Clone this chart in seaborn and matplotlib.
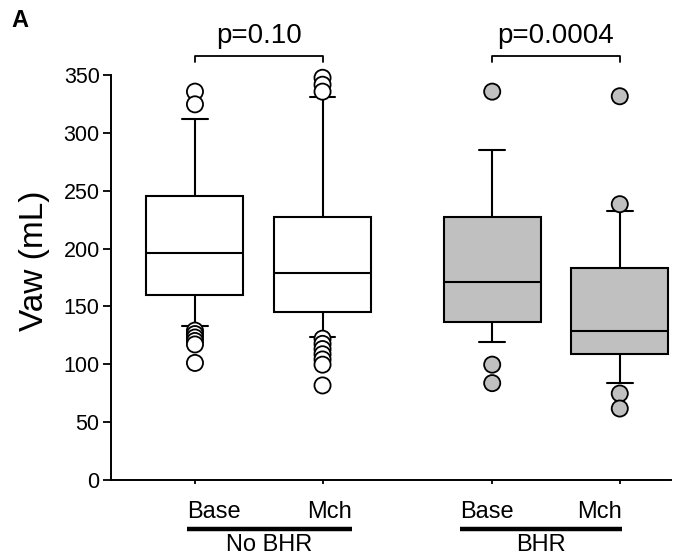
import pandas as pd
import matplotlib.pyplot as plt
import matplotlib.transforms as mtransforms
import seaborn as sns

# Box summaries (whisker ends, quartiles, median)
groups = ["No BHR", "No BHR", "BHR", "BHR"]
conditions = ["Base", "Mch", "Base", "Mch"]
positions = [0, 1, 2.33, 3.33]
whisker_low = [133, 123.5, 119, 83.5]
q1 = [160, 145, 136.5, 109]
median = [196.5, 178.5, 171, 128.5]
q3 = [246, 227.5, 227, 183.5]
whisker_high = [312, 331.5, 285.5, 233]

# points beyond the whiskers
outliers = [
    [336, 325, 129, 126, 123, 120, 117, 101],
    [348, 342, 336, 122, 117.5, 113, 108.5, 104, 99.5, 81.5],
    [336, 99.5, 83.5],
    [332, 238.5, 74.5, 61.5],
]

group_names = ["No BHR", "BHR"]
p_values = ["p=0.10", "p=0.0004"]
fills = {"No BHR": "white", "BHR": "#c0c0c0"}

# five numbers per box -> seaborn gets exactly these quartiles with whis=(0, 100)
box_rows = []
for g, c, x, lo, a, m, b, hi in zip(groups, conditions, positions,
                                    whisker_low, q1, median, q3, whisker_high):
    for v in (lo, a, m, b, hi):
        box_rows.append({"group": g, "cond": c, "x": x, "vaw": v})
box_df = pd.DataFrame(box_rows)

flier_rows = []
for g, x, pts in zip(groups, positions, outliers):
    for v in pts:
        flier_rows.append({"group": g, "x": x, "vaw": v})
flier_df = pd.DataFrame(flier_rows)

sns.set_theme(style="ticks", rc={"text.color": "black", "axes.labelcolor": "black",
                                 "xtick.color": "black", "ytick.color": "black",
                                 "axes.edgecolor": "black"})
plt.rcParams['font.family'] = ['Liberation Sans', 'DejaVu Sans']

fig = plt.figure(figsize=(6.88, 5.55), dpi=100)
ax = fig.add_axes([0.161, 0.136, 0.814, 0.728])

sns.boxplot(data=box_df, x="x", y="vaw", hue="group", palette=fills,
            native_scale=True, dodge=False, width=0.76, whis=(0, 100),
            showfliers=False, linecolor="black", linewidth=1.5,
            saturation=1, capwidths=0.2, legend=False, ax=ax)

sns.scatterplot(data=flier_df, x="x", y="vaw", hue="group", palette=fills,
                s=135, edgecolor="black", linewidth=1.3, legend=False,
                clip_on=False, zorder=4, ax=ax)

ax.set_xlim(-0.66, 3.73)
ax.set_ylim(0, 350)
ax.set_yticks(range(0, 351, 50))
ax.set_xticks(positions)
ax.set_xticklabels([])
ax.set_xlabel("")
ax.tick_params(axis="y", labelsize=15.5, length=6, width=1.3, pad=2)
ax.tick_params(axis="x", length=3, width=1.3)
for side in ["top", "right"]:
    ax.spines[side].set_visible(False)
for side in ["left", "bottom"]:
    ax.spines[side].set_linewidth(1.4)
ax.spines["left"].set_bounds(0, 350)

ax.set_ylabel("Vaw (mL)", fontsize=24)
ax.yaxis.set_label_coords(-0.108, 0.542)

# significance brackets
for i, p in enumerate(p_values):
    x1, x2 = positions[2 * i], positions[2 * i + 1]
    ax.plot([x1, x1, x2, x2], [362, 366.5, 366.5, 362], color="black",
            lw=1.3, clip_on=False)
    ax.text((x1 + x2) / 2, 378.5, p, ha="center", va="baseline", fontsize=20)

# group labels under the axis
trans = mtransforms.blended_transform_factory(ax.transData, ax.transAxes)
bar_spans = [(-0.063, 1.23), (2.077, 3.35)]
for i, (a, b) in enumerate(bar_spans):
    ax.text(a, -0.095, conditions[2 * i], transform=trans, ha="left",
            va="baseline", fontsize=17)
    ax.text(b, -0.095, conditions[2 * i + 1], transform=trans, ha="right",
            va="baseline", fontsize=17)
    ax.plot([a, b], [-0.122, -0.122], transform=trans, color="black",
            lw=3.2, clip_on=False, solid_capstyle="butt")
    ax.text((a + b) / 2, -0.178, group_names[i], transform=trans,
            ha="center", va="baseline", fontsize=17)

fig.text(0.016, 0.952, "A", fontsize=17, fontweight="bold")

fig.savefig("out.png", dpi=100)
